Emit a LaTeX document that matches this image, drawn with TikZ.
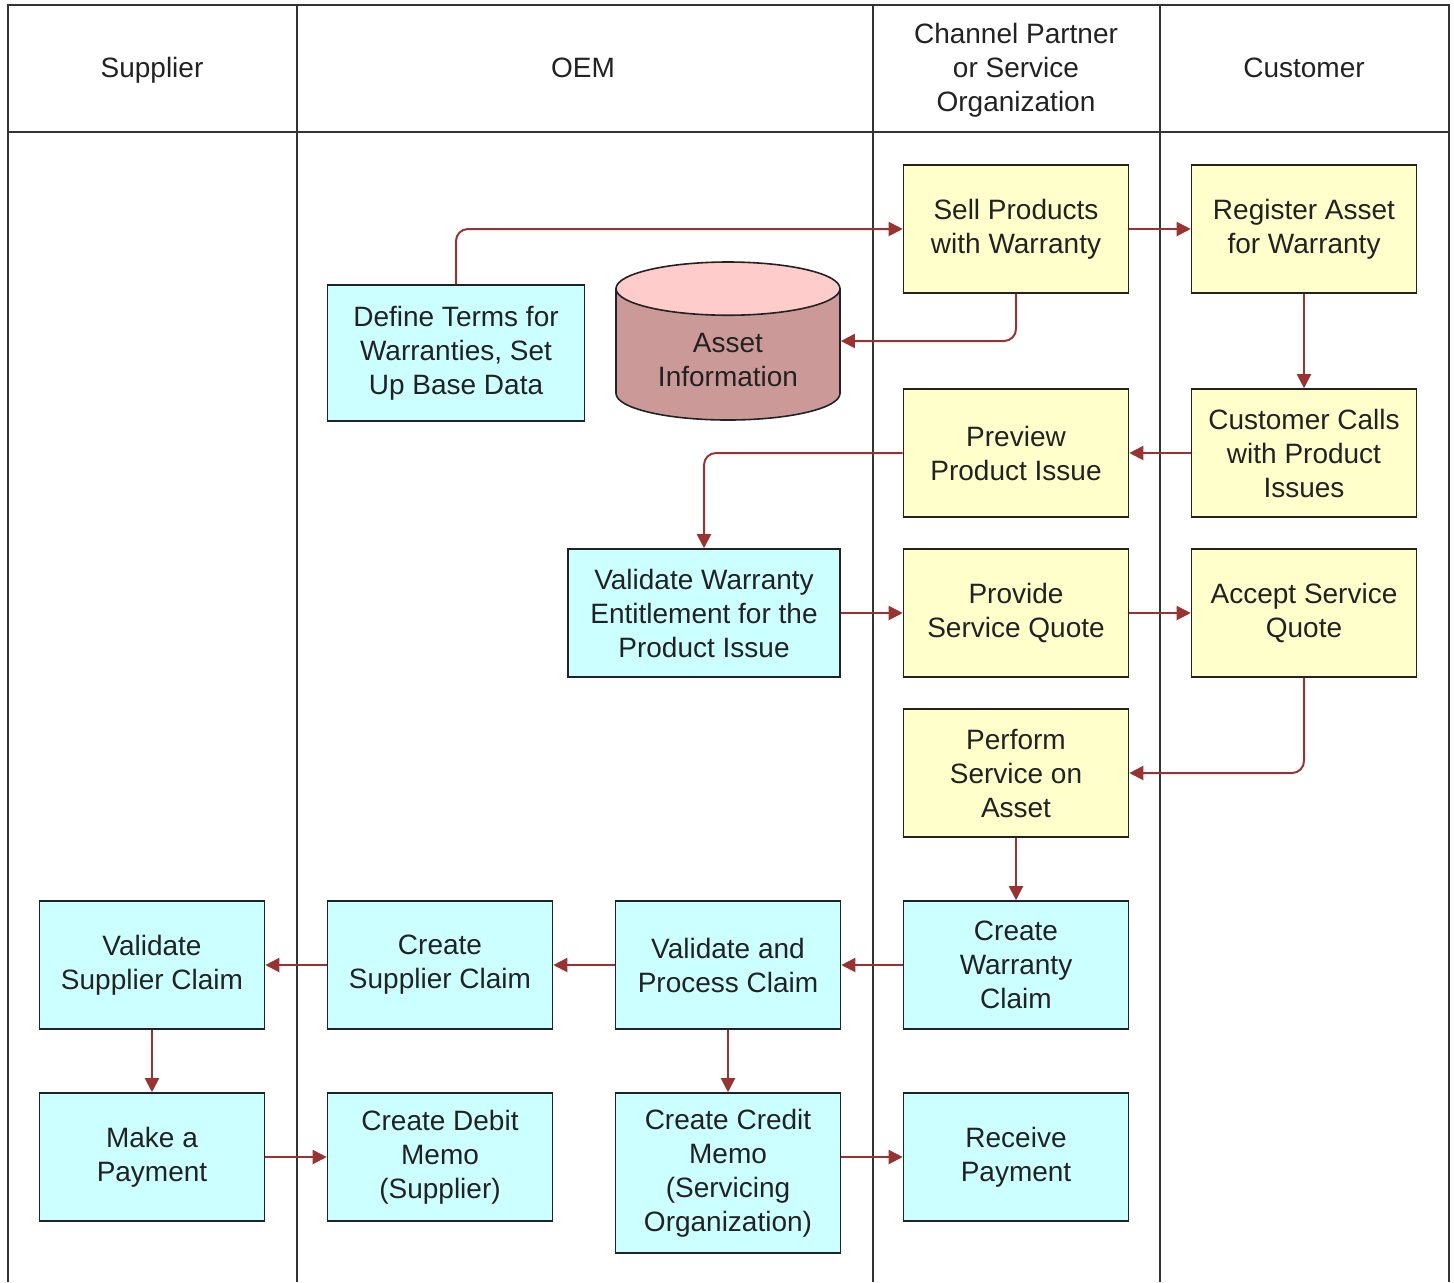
\documentclass[tikz,border=0pt]{standalone}
\usepackage{fontspec}
\setmainfont{Liberation Sans}
\usetikzlibrary{arrows.meta,shapes.geometric}
\definecolor{ink}{HTML}{222222}
\definecolor{lane}{HTML}{333333}
\definecolor{yel}{HTML}{FFFFCC}
\definecolor{cyan}{HTML}{CCFFFF}
\definecolor{flow}{HTML}{993333}
\definecolor{dbtop}{HTML}{FFCCCC}
\definecolor{dbbody}{HTML}{CC9999}
\newcommand{\boxfont}{\fontsize{14}{17}\selectfont}

\begin{document}
\begin{tikzpicture}[x=0.5pt,y=-0.5pt,
  lanehead/.style={font=\boxfont,text=ink,align=center},
  lanename/.style={lanehead,text height=10pt,text depth=3pt},
  stepbox/.style={draw=ink,line width=0.8pt,font=\boxfont,text=ink,align=center,
    minimum width=112.5pt,minimum height=64pt,inner sep=0pt},
  partner/.style={stepbox,fill=yel},
  oem/.style={stepbox,fill=cyan},
  flowarrow/.style={draw=flow,line width=1pt,rounded corners=6pt,
    -{Triangle[length=7pt,width=7pt]}}]
  \useasboundingbox (0,0) rectangle (1454,1282);

  % --- Carriles ---
  \draw[lane,line width=1.2pt] (8,1282) -- (8,5) -- (1449,5) -- (1449,1282);
  \draw[lane,line width=1.2pt] (8,132) -- (1449,132);
  \draw[lane,line width=1.2pt] (297,5) -- (297,1282);
  \draw[lane,line width=1.2pt] (873,5) -- (873,1282);
  \draw[lane,line width=1.2pt] (1160,5) -- (1160,1282);

  \node[lanename] (hsup) at (152,70) {Supplier};
  \node[lanename] (hoem) at (583,70) {OEM};
  \node[lanehead] (hcp) at (1016,70) {Channel Partner\\or Service\\Organization};
  \node[lanename] (hcus) at (1304,70) {Customer};

  % --- Pasos ---
  \node[partner] (sell) at (1016,229) {Sell Products\\with Warranty};
  \node[partner] (register) at (1304,229) {Register Asset\\for Warranty};
  \node[oem,minimum width=128.5pt,minimum height=68pt] (terms) at (456,353)
    {Define Terms for\\Warranties, Set\\Up Base Data};
  \node[cylinder,shape border rotate=90,draw=ink,line width=0.8pt,aspect=0.38,
    cylinder uses custom fill,cylinder body fill=dbbody,cylinder end fill=dbtop,
    minimum width=112pt,minimum height=79pt,inner sep=0pt,anchor=shape center,
    font=\boxfont,text=ink,align=center] (asset) at (728,341)
    {\raisebox{-4pt}[\height][\depth]{\begin{tabular}{@{}c@{}}Asset\\Information\end{tabular}}};
  \node[partner] (preview) at (1016,453) {Preview\\Product Issue};
  \node[partner] (calls) at (1304,453) {Customer Calls\\with Product\\Issues};
  \node[oem,minimum width=136pt] (validw) at (704,613)
    {Validate Warranty\\Entitlement for the\\Product Issue};
  \node[partner] (quote) at (1016,613) {Provide\\Service Quote};
  \node[partner] (accept) at (1304,613) {Accept Service\\Quote};
  \node[partner] (perform) at (1016,773) {Perform\\Service on\\Asset};
  \node[oem] (valsup) at (152,965) {Validate\\Supplier Claim};
  \node[oem] (supclaim) at (440,965) {Create\\Supplier Claim};
  \node[oem] (process) at (728,965) {Validate and\\Process Claim};
  \node[oem] (wclaim) at (1016,965) {Create\\Warranty\\Claim};
  \node[oem] (payment) at (152,1157) {Make a\\Payment};
  \node[oem] (debit) at (440,1157) {Create Debit\\Memo\\(Supplier)};
  \node[oem,minimum height=80pt] (credit) at (728,1173)
    {Create Credit\\Memo\\(Servicing\\Organization)};
  \node[oem] (receive) at (1016,1157) {Receive\\Payment};

  % --- Flujo ---
  \draw[flowarrow] (terms.north) |- (sell.west);
  \draw[flowarrow] (sell.east) -- (register.west);
  \draw[flowarrow] (sell.south) |- (asset.shape center -| asset.east);
  \draw[flowarrow] (register.south) -- (calls.north);
  \draw[flowarrow] (calls.west) -- (preview.east);
  \draw[flowarrow] (preview.west) -| (validw.north);
  \draw[flowarrow] (validw.east) -- (quote.west);
  \draw[flowarrow] (quote.east) -- (accept.west);
  \draw[flowarrow] (accept.south) |- (perform.east);
  \draw[flowarrow] (perform.south) -- (wclaim.north);
  \draw[flowarrow] (wclaim.west) -- (process.east);
  \draw[flowarrow] (process.west) -- (supclaim.east);
  \draw[flowarrow] (supclaim.west) -- (valsup.east);
  \draw[flowarrow] (valsup.south) -- (payment.north);
  \draw[flowarrow] (payment.east) -- (debit.west);
  \draw[flowarrow] (process.south) -- (credit.north);
  \draw[flowarrow] (credit.east |- receive.west) -- (receive.west);
\end{tikzpicture}
\end{document}
